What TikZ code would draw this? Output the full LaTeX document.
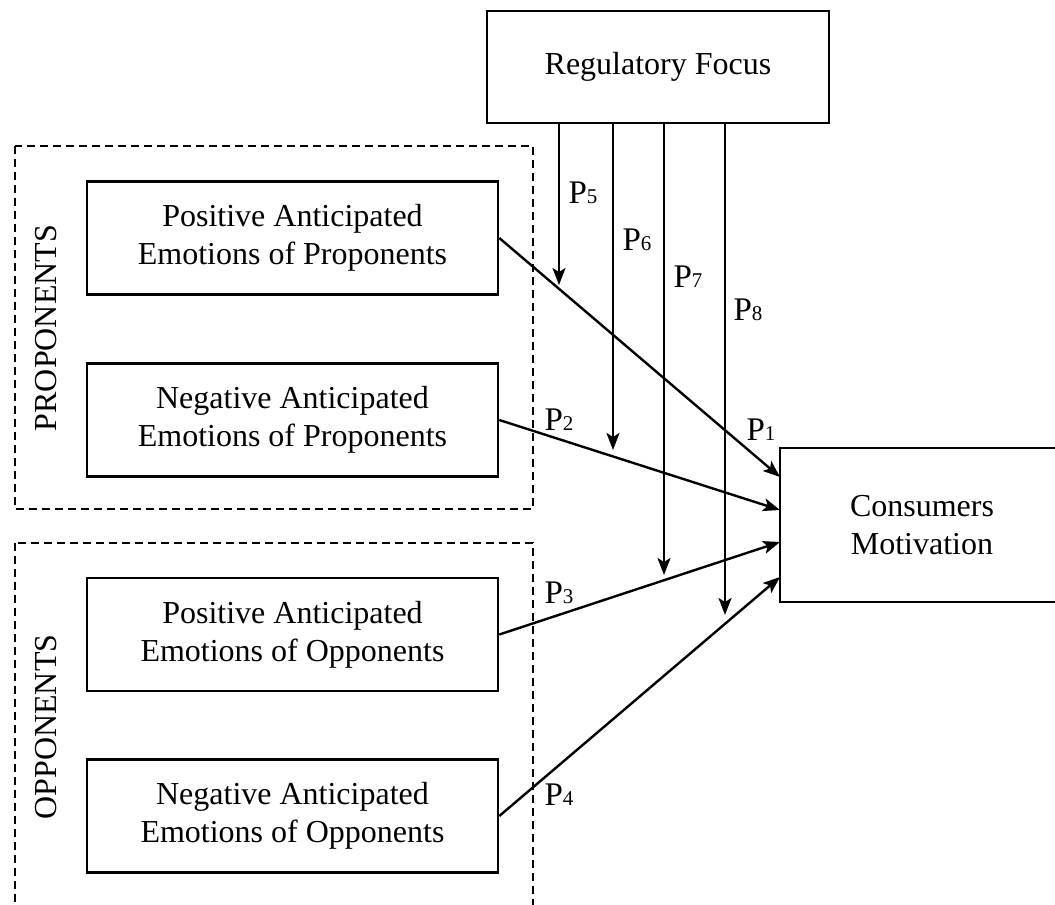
\documentclass[tikz,border=0pt]{standalone}
\usepackage{fontspec}
\setmainfont{Liberation Serif}
\usetikzlibrary{arrows.meta}
\newcommand{\plab}[1]{P{\fontsize{10.5}{12}\selectfont #1}}

\begin{document}
\begin{tikzpicture}[x=0.5pt,y=-0.5pt,
    box/.style={draw,line width=1.3pt,align=center,inner sep=0pt,
      font=\fontsize{16}{19}\selectfont},
    emo/.style={box,minimum width=205.5pt,minimum height=56.5pt},
    grp/.style={draw,line width=1pt,dash pattern=on 4pt off 2.5pt},
    arr/.style={line width=1.2pt,-{Stealth[length=8.5pt,width=6.5pt,inset=2pt]}},
    lab/.style={inner sep=0pt,font=\fontsize{16.5}{19}\selectfont}]
  \useasboundingbox (0,0) rectangle (1055,905);
  % groups
  \draw[grp] (15,146) rectangle (533,509);
  \draw[grp] (15,543) rectangle (533,908);
  \node[rotate=90,font=\fontsize{16}{19}\selectfont] (pro) at (46,328) {PROPONENTS};
  \node[rotate=90,font=\fontsize{16}{19}\selectfont] (opp) at (46,727) {OPPONENTS};
  % boxes
  \node[box,minimum width=171pt,minimum height=56pt] (rf) at (658,67) {Regulatory Focus};
  \node[emo] (pospro) at (292.5,238) {Positive Anticipated\\Emotions of Proponents};
  \node[emo] (negpro) at (292.5,420) {Negative Anticipated\\Emotions of Proponents};
  \node[emo] (posopp) at (292.5,634.5) {Positive Anticipated\\Emotions of Opponents};
  \node[emo] (negopp) at (292.5,816) {Negative Anticipated\\Emotions of Opponents};
  \node[box,minimum width=142pt,minimum height=77pt] (cm) at (922,525) {Consumers\\Motivation};
  % arrow ends
  \coordinate (c1) at (780,477);
  \coordinate (c2) at (780,510);
  \coordinate (c3) at (780,542);
  \coordinate (c4) at (780,577);
  \coordinate (v5) at (559,285);
  \coordinate (v6) at (613,450);
  \coordinate (v7) at (664,575);
  \coordinate (v8) at (725,615);
  % direct paths
  \draw[arr] (pospro.east) -- (c1);
  \draw[arr] (negpro.east) -- (c2);
  \draw[arr] (posopp.east) -- (c3);
  \draw[arr] (negopp.east) -- (c4);
  % moderating paths
  \foreach \v in {v5,v6,v7,v8}
    \draw[arr] (\v |- rf.south) -- (\v);
  % labels
  \node[lab] (l1) at (761,430) {\plab{1}};
  \node[lab] (l2) at (559,420) {\plab{2}};
  \node[lab] (l3) at (559,593) {\plab{3}};
  \node[lab] (l4) at (559,795) {\plab{4}};
  \node[lab] (l5) at (583,193) {\plab{5}};
  \node[lab] (l6) at (637,240) {\plab{6}};
  \node[lab] (l7) at (688,277) {\plab{7}};
  \node[lab] (l8) at (748,310) {\plab{8}};
\end{tikzpicture}
\end{document}
